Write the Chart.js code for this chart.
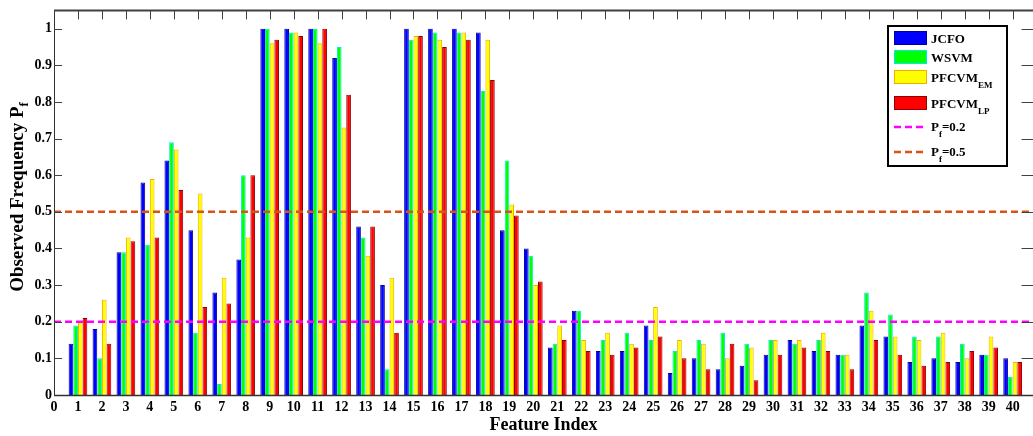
<!DOCTYPE html>
<html>
<head>
<meta charset="utf-8">
<script src="https://cdn.jsdelivr.net/npm/chart.js@4"></script>
<style>
  body { margin: 0; background: #fff; }
  #wrap { width: 1033px; height: 436px; }
</style>
</head>
<body>
<div id="wrap"><canvas id="chart" width="1033" height="436"></canvas></div>
<script>
// feature index 1..40
const features = [1,2,3,4,5,6,7,8,9,10,11,12,13,14,15,16,17,18,19,20,
                  21,22,23,24,25,26,27,28,29,30,31,32,33,34,35,36,37,38,39,40];

// observed frequency per method
const jcfo    = [0.14,0.18,0.39,0.58,0.64,0.45,0.28,0.37,1.00,1.00,1.00,0.92,0.46,0.30,1.00,1.00,1.00,0.99,0.45,0.40,
                 0.13,0.23,0.12,0.12,0.19,0.06,0.10,0.07,0.08,0.11,0.15,0.12,0.11,0.19,0.16,0.09,0.10,0.09,0.11,0.10];
const wsvm    = [0.19,0.10,0.39,0.41,0.69,0.17,0.03,0.60,1.00,0.99,1.00,0.95,0.43,0.07,0.97,0.99,0.99,0.83,0.64,0.38,
                 0.14,0.23,0.15,0.17,0.15,0.12,0.15,0.17,0.14,0.15,0.14,0.15,0.11,0.28,0.22,0.16,0.16,0.14,0.11,0.05];
const pfcvmEm = [0.20,0.26,0.43,0.59,0.67,0.55,0.32,0.43,0.96,0.99,0.96,0.73,0.38,0.32,0.98,0.97,0.99,0.97,0.52,0.30,
                 0.19,0.15,0.17,0.14,0.24,0.15,0.14,0.10,0.13,0.15,0.15,0.17,0.11,0.23,0.16,0.15,0.17,0.10,0.16,0.09];
const pfcvmLp = [0.21,0.14,0.42,0.43,0.56,0.24,0.25,0.60,0.97,0.98,1.00,0.82,0.46,0.17,0.98,0.95,0.97,0.86,0.49,0.31,
                 0.15,0.12,0.11,0.13,0.16,0.10,0.07,0.14,0.04,0.11,0.13,0.12,0.07,0.15,0.11,0.08,0.09,0.12,0.13,0.09];

// tick labels
const xTicks = [0].concat(features);
const yTicks = [0, 0.1, 0.2, 0.3, 0.4, 0.5, 0.6, 0.7, 0.8, 0.9, 1];

// threshold lines
const thresholds = [0.2, 0.5];
const X_MAX = 40.85;

const serif = "'Liberation Serif', 'DejaVu Serif', serif";

function toPoints(values) {
    return values.map((v, i) => ({ x: features[i], y: v }));
}

function barSet(label, values, fill, edge) {
    return {
        type: 'bar',
        label: label,
        data: toPoints(values),
        backgroundColor: fill,
        borderColor: edge,
        borderWidth: 1,
        borderSkipped: 'start',
        categoryPercentage: 0.78,
        barPercentage: 1.0,
        order: 1
    };
}

function lineSet(label, y, color) {
    return {
        type: 'line',
        label: label,
        data: [{ x: 0, y: y }, { x: X_MAX, y: y }],
        borderColor: color,
        borderWidth: 2.5,
        borderDash: [7, 4],
        pointRadius: 0,
        fill: false,
        order: 0
    };
}

// 坐标框、内向刻度、图例和轴标题
const framePlugin = {
    id: 'frame',
    afterDraw(chart) {
        const ctx = chart.ctx;
        const area = chart.chartArea;
        const xs = chart.scales.x;
        const ys = chart.scales.y;

        ctx.save();
        ctx.strokeStyle = '#333';
        ctx.lineWidth = 1;

        // axes
        ctx.beginPath();
        ctx.moveTo(area.left + 0.5, area.top);
        ctx.lineTo(area.left + 0.5, area.bottom + 1);
        ctx.stroke();

        ctx.lineWidth = 1.5;
        ctx.beginPath();
        ctx.moveTo(area.left, area.bottom + 0.5);
        ctx.lineTo(area.right, area.bottom + 0.5);
        ctx.stroke();

        ctx.lineWidth = 2;
        ctx.strokeStyle = '#404040';
        ctx.beginPath();
        ctx.moveTo(area.left, area.top);
        ctx.lineTo(area.right, area.top);
        ctx.stroke();

        // ticks
        ctx.lineWidth = 1;
        ctx.strokeStyle = '#404040';
        ctx.beginPath();
        features.forEach(i => {
            const px = Math.round(xs.getPixelForValue(i)) + 0.5;
            ctx.moveTo(px, area.top);
            ctx.lineTo(px, area.top + 9);
        });
        yTicks.slice(1).forEach(v => {
            const py = Math.round(ys.getPixelForValue(v)) + 0.5;
            ctx.moveTo(area.left, py);
            ctx.lineTo(area.left + 8, py);
            ctx.moveTo(area.right - 11.5, py);
            ctx.lineTo(area.right, py);
        });
        ctx.stroke();

        // x title
        ctx.fillStyle = '#000';
        ctx.font = 'bold 18px ' + serif;
        ctx.textAlign = 'center';
        ctx.textBaseline = 'middle';
        ctx.fillText('Feature Index', (area.left + area.right) / 2, 425);

        // y title with subscript
        ctx.save();
        ctx.translate(17, 197);
        ctx.rotate(-Math.PI / 2);
        const main = 'Observed Frequency P';
        ctx.font = 'bold 19px ' + serif;
        const wMain = ctx.measureText(main).width;
        ctx.font = 'bold 13px ' + serif;
        const wSub = ctx.measureText('f').width;
        const start = -(wMain + wSub) / 2;
        ctx.textAlign = 'left';
        ctx.textBaseline = 'alphabetic';
        ctx.font = 'bold 19px ' + serif;
        ctx.fillText(main, start, 6);
        ctx.font = 'bold 13px ' + serif;
        ctx.fillText('f', start + wMain, 11);
        ctx.restore();

        drawLegend(ctx);
        ctx.restore();
    }
};

function drawLegend(ctx) {
    const bx = 888, by = 26, bw = 119, bh = 140;
    ctx.fillStyle = '#fff';
    ctx.fillRect(bx, by, bw, bh);
    ctx.strokeStyle = '#000';
    ctx.lineWidth = 2;
    ctx.strokeRect(bx, by, bw, bh);

    const swatches = [
        { y: 31, fill: '#0000ff', edge: '#0000a0', text: 'JCFO', sub: '' },
        { y: 50, fill: '#00ff00', edge: '#00e8e8', text: 'WSVM', sub: '' },
        { y: 70, fill: '#ffff00', edge: '#f0b000', text: 'PFCVM', sub: 'EM' },
        { y: 96, fill: '#ff0000', edge: '#900000', text: 'PFCVM', sub: 'LP' }
    ];
    ctx.textAlign = 'left';
    ctx.textBaseline = 'alphabetic';
    swatches.forEach(s => {
        ctx.fillStyle = s.fill;
        ctx.fillRect(894, s.y, 33, 14);
        ctx.strokeStyle = s.edge;
        ctx.lineWidth = 1;
        ctx.strokeRect(894.5, s.y + 0.5, 32, 13);
        ctx.fillStyle = '#000';
        ctx.font = 'bold 13px ' + serif;
        ctx.fillText(s.text, 931, s.y + 12);
        if (s.sub) {
            const w = ctx.measureText(s.text).width;
            ctx.font = 'bold 9px ' + serif;
            ctx.fillText(s.sub, 931 + w, s.y + 18);
        }
    });

    const lines = [
        { y: 127, color: '#ff00ff', text: '=0.2' },
        { y: 152, color: '#d95319', text: '=0.5' }
    ];
    lines.forEach(l => {
        ctx.strokeStyle = l.color;
        ctx.lineWidth = 2.5;
        ctx.setLineDash([7, 4]);
        ctx.beginPath();
        ctx.moveTo(894, l.y);
        ctx.lineTo(923, l.y);
        ctx.stroke();
        ctx.setLineDash([]);
        ctx.fillStyle = '#000';
        ctx.font = 'bold 13px ' + serif;
        ctx.fillText('P', 931, l.y + 4);
        const wp = ctx.measureText('P').width;
        ctx.font = 'bold 9px ' + serif;
        ctx.fillText('f', 931 + wp, l.y + 10);
        const wf = ctx.measureText('f').width;
        ctx.font = 'bold 13px ' + serif;
        ctx.fillText(l.text, 931 + wp + wf, l.y + 4);
    });
}

document.addEventListener('DOMContentLoaded', function() {
    const canvas = document.getElementById('chart');
    new Chart(canvas, {
        type: 'bar',
        data: {
            datasets: [
                barSet('JCFO', jcfo, '#0000ff', '#0000a0'),
                barSet('WSVM', wsvm, '#00ff00', '#00e8e8'),
                barSet('PFCVM_EM', pfcvmEm, '#ffff00', '#f0b000'),
                barSet('PFCVM_LP', pfcvmLp, '#ff0000', '#900000'),
                lineSet('Pf=0.2', thresholds[0], '#ff00ff'),
                lineSet('Pf=0.5', thresholds[1], '#d95319')
            ]
        },
        options: {
            responsive: false,
            devicePixelRatio: 1,
            animation: false,
            layout: { padding: { top: 7, right: 0, left: 0, bottom: 0 } },
            plugins: {
                legend: { display: false },
                tooltip: { enabled: false }
            },
            scales: {
                x: {
                    type: 'linear',
                    offset: false,
                    min: 0,
                    max: X_MAX,
                    grid: { display: false, drawTicks: false },
                    border: { display: false },
                    afterBuildTicks: s => { s.ticks = xTicks.map(v => ({ value: v })); },
                    afterFit: s => { s.height = 41; },
                    ticks: {
                        autoSkip: false,
                        maxRotation: 0,
                        padding: 4,
                        color: '#000',
                        font: { family: serif, size: 14, weight: 'bold' },
                        callback: v => String(v)
                    }
                },
                y: {
                    min: 0,
                    max: 1.05,
                    grid: { display: false, drawTicks: false },
                    border: { display: false },
                    afterBuildTicks: s => { s.ticks = yTicks.map(v => ({ value: v })); },
                    afterFit: s => { s.width = 54; },
                    ticks: {
                        padding: 2,
                        color: '#000',
                        font: { family: serif, size: 14, weight: 'bold' },
                        callback: v => (v === 0 || v === 1) ? String(v) : v.toFixed(1)
                    }
                }
            }
        },
        plugins: [framePlugin]
    });
});
</script>
</body>
</html>
